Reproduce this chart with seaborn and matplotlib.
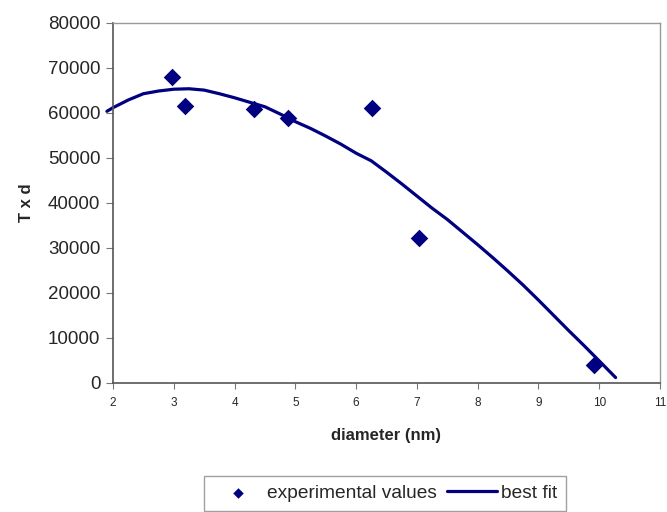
import numpy as np
import pandas as pd
import seaborn as sns
import matplotlib
matplotlib.use('Agg')
import matplotlib.pyplot as plt

# experimental points
exp_diameter = [2.97, 3.18, 4.32, 4.88, 6.26, 7.03, 9.91]
exp_txd = [67900, 61500, 60700, 58800, 61100, 32100, 3900]

# best fit curve
fit_diameter = [1.9, 2.0, 2.25, 2.5, 2.75, 3.0, 3.25, 3.5, 3.75, 4.0, 4.25, 4.5, 4.75,
                5.0, 5.25, 5.5, 5.75, 6.0, 6.25, 6.5, 6.75, 7.0, 7.25, 7.5, 7.75,
                8.0, 8.25, 8.5, 8.75, 9.0, 9.25, 9.5, 9.75, 10.0, 10.27]
fit_txd = [60300, 61100, 62800, 64200, 64800, 65200, 65300, 65000, 64200, 63300, 62300,
           61300, 59700, 58000, 56500, 54800, 53000, 51000, 49300, 46800, 44200, 41500,
           38800, 36300, 33500, 30700, 27800, 24800, 21700, 18400, 15000, 11600, 8300,
           4900, 1200]

xticks = list(range(2, 12))
yticks = list(range(0, 80001, 10000))

navy = "#000080"

sns.set_style("ticks")
plt.rcParams['font.family'] = ['Liberation Sans', 'DejaVu Sans']

fig = plt.figure(figsize=(6.67, 5.12), dpi=100)
ax = fig.add_axes([0.1694, 0.252, 0.8201, 0.704])

fit_df = pd.DataFrame({"diameter": fit_diameter, "txd": fit_txd})
exp_df = pd.DataFrame({"diameter": exp_diameter, "txd": exp_txd})

sns.lineplot(data=fit_df, x="diameter", y="txd", color=navy, linewidth=2.3,
             sort=False, label="best fit", ax=ax, clip_on=False, zorder=2)
sns.scatterplot(data=exp_df, x="diameter", y="txd", color=navy, marker="D", s=80,
                edgecolor=navy, linewidth=0, label="experimental values", ax=ax, zorder=3)

ax.set_xlim(2, 11)
ax.set_ylim(0, 80000)
ax.set_xticks(xticks)
ax.set_yticks(yticks)
ax.tick_params(axis="x", labelsize=8.5, length=4, color="#777777", pad=6)
ax.tick_params(axis="y", labelsize=13.5, length=5, color="#777777", pad=4)

for side in ["left", "bottom"]:
    ax.spines[side].set_color("#555555")
    ax.spines[side].set_linewidth(1.2)
for side in ["top", "right"]:
    ax.spines[side].set_visible(True)
    ax.spines[side].set_color("#999999")
    ax.spines[side].set_linewidth(1.0)

ax.set_xlabel("diameter (nm)", fontsize=12, fontweight="bold", labelpad=14)
ax.set_ylabel("T x d", fontsize=12, fontweight="bold", labelpad=10)

handles, labels = ax.get_legend_handles_labels()
order = [labels.index("experimental values"), labels.index("best fit")]
leg = ax.legend([handles[i] for i in order], [labels[i] for i in order],
                ncol=2, loc="upper left", bbox_to_anchor=(0.306, 0.0703),
                bbox_transform=fig.transFigure, fontsize=13.8, frameon=True,
                fancybox=False, edgecolor="#888888", handlelength=2.6,
                columnspacing=0.5, handletextpad=0.25, borderpad=0.45,
                borderaxespad=0, markerscale=0.6)
leg.get_frame().set_linewidth(1.0)

fig.savefig("out.png", dpi=100)
